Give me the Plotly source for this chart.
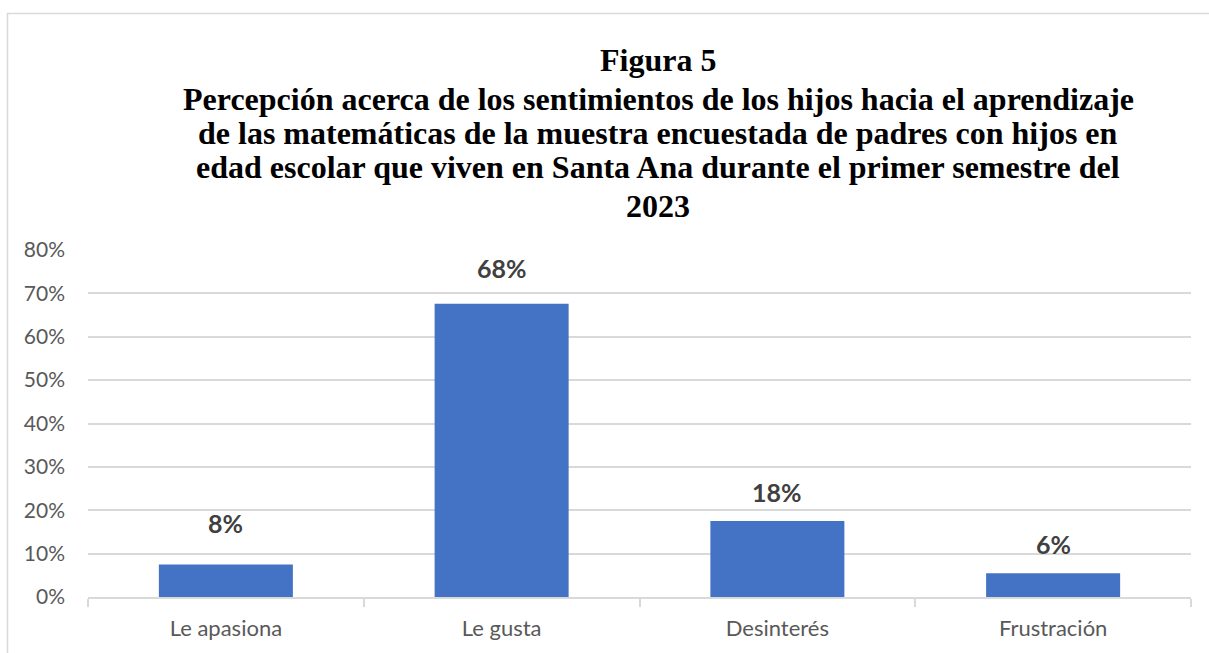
import plotly.graph_objects as go

categories = ["Le apasiona", "Le gusta", "Desinterés", "Frustración"]
values = [0.075, 0.676, 0.175, 0.055]
labels = ["8%", "68%", "18%", "6%"]
label_offsets = [41, 36, 29, 29]

title_lines = [
    "Figura 5",
    "Percepción acerca de los sentimientos de los hijos hacia el aprendizaje",
    "de las matemáticas de la muestra encuestada de padres con hijos en",
    "edad escolar que viven en Santa Ana durante el primer semestre del",
    "2023",
]
title_line_y = [60, 99, 133, 167, 206]

W, H = 1209, 653
ml, mr, mt, mb = 88, 18, 250, 56
pw, ph = W - ml - mr, H - mt - mb

fig = go.Figure()
fig.add_trace(go.Bar(
    x=categories, y=values,
    marker=dict(color="#4472C4", line=dict(width=0)),
    hoverinfo="skip",
))

for c, v, t, o in zip(categories, values, labels, label_offsets):
    fig.add_annotation(
        x=c, y=v, text=f"<b>{t}</b>", showarrow=False,
        yanchor="middle", yshift=o,
        font=dict(family="Lato, 'Open Sans', sans-serif", size=25, color="#404040"),
    )

for line, py in zip(title_lines, title_line_y):
    fig.add_annotation(
        x=(658 - ml) / pw, y=(H - mb - py) / ph, xref="paper", yref="paper",
        xanchor="center", yanchor="middle",
        text="<b>" + line + "</b>",
        showarrow=False, align="center",
        font=dict(family="Liberation Serif, 'Times New Roman', serif", size=32, color="#000000"),
    )

# outer chart border
fig.add_shape(
    type="rect", xref="paper", yref="paper",
    x0=(7.5 - ml) / pw, x1=(W + 10 - ml) / pw,
    y0=(H - mb - (H + 10)) / ph, y1=(H - mb - 13.5) / ph,
    line=dict(color="#D9D9D9", width=1.5), fillcolor="rgba(0,0,0,0)", layer="below",
)

fig.update_layout(
    width=W, height=H,
    margin=dict(l=ml, r=mr, t=mt, b=mb, pad=0),
    paper_bgcolor="white", plot_bgcolor="white",
    bargap=0.514,
    showlegend=False,
    xaxis=dict(
        type="category",
        showline=True, linecolor="#D9D9D9", linewidth=1.5,
        ticks="outside", tickson="boundaries", ticklen=8, tickcolor="#D9D9D9", tickwidth=1.5,
        ticklabelstandoff=11,
        tickfont=dict(family="Lato, 'Open Sans', sans-serif", size=22, color="#595959"),
        showgrid=False,
    ),
    yaxis=dict(
        range=[0, 0.8], dtick=0.1, tickformat=".0%",
        showgrid=True, gridcolor="#D9D9D9", gridwidth=1.5,
        zeroline=False, showline=False, ticks="",
        ticklabelstandoff=22,
        tickfont=dict(family="Lato, 'Open Sans', sans-serif", size=21, color="#595959"),
    ),
)

fig.write_html("out.html")
